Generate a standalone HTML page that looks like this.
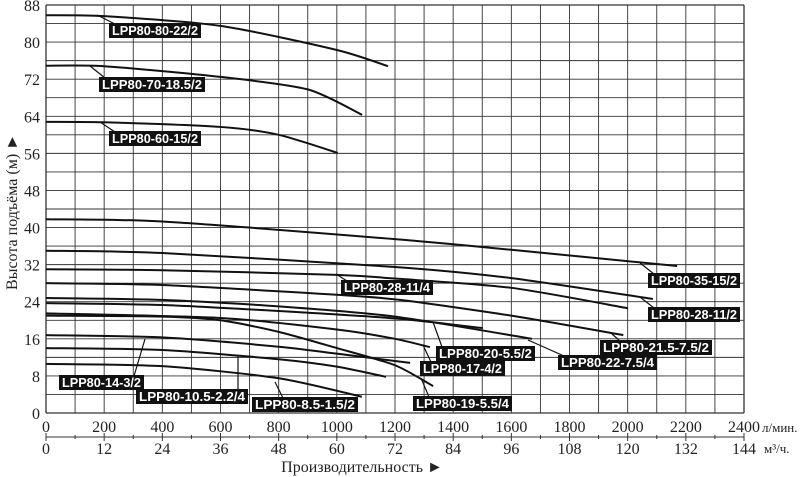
<!DOCTYPE html>
<html><head><meta charset="utf-8"><style>
html,body{margin:0;padding:0;background:#fff;}
svg{display:block;}
.tk{font-family:"Liberation Serif",serif;font-size:16px;fill:#222;}
.lb{font-family:"Liberation Sans",sans-serif;font-size:12.5px;font-weight:bold;fill:#fff;}
</style></head><body>
<svg id="chart" width="800" height="477" viewBox="0 0 800 477" xmlns="http://www.w3.org/2000/svg">
<g id="grid"></g>
<g id="curves"></g>
<g id="labels"></g>
<g id="axes"></g>
<text class="tk" transform="translate(17,212) rotate(-90)" text-anchor="middle">Высота подъёма (м) ►</text>
<text class="tk" x="362" y="472" text-anchor="middle">Производительность ►</text>
<text class="tk" x="762" y="432" style="font-size:13px">л/мин.</text>
<text class="tk" x="764" y="453" style="font-size:13px">м³/ч.</text>
</svg>
<script>
const xTicksL = [0,200,400,600,800,1000,1200,1400,1600,1800,2000,2200,2400];
const xTicksM = [0,12,24,36,48,60,72,84,96,108,120,132,144];
const yTicks = [0,8,16,24,32,40,48,56,64,72,80,88];
const names = ["LPP80-80-22/2","LPP80-70-18.5/2","LPP80-60-15/2","LPP80-35-15/2","LPP80-28-11/2","LPP80-28-11/4","LPP80-21.5-7.5/2","LPP80-22-7.5/4","LPP80-20-5.5/2","LPP80-17-4/2","LPP80-19-5.5/4","LPP80-14-3/2","LPP80-10.5-2.2/4","LPP80-8.5-1.5/2"];
const flowQ = [
 [0,200,600,1000,1176],
 [0,200,600,900,1087],
 [0,200,600,800,1003],
 [0,400,1200,1600,2170],
 [0,400,1200,1600,2087],
 [0,400,1000,1200,1600,2001],
 [0,400,1000,1217,1600,1985],
 [0,400,800,1200,1671],
 [0,400,800,1200,1502],
 [0,600,1000,1200,1320],
 [0,400,600,800,1000,1200,1331],
 [0,400,800,1000,1252],
 [0,400,800,1000,1169],
 [0,400,800,1086]
];
const headH = [
 [85.8,85.6,83.5,78.3,74.8],
 [74.9,74.8,72.5,69.8,64.3],
 [62.8,62.7,61.7,60,56.1],
 [41.8,41.3,37.5,35.2,31.7],
 [35,34.5,31.5,29.1,24.6],
 [31,30.8,29.8,29,27,22.6],
 [28,27.6,25.5,24.4,21,16.8],
 [24.8,24.4,23,20.8,16],
 [23.7,23.3,22,20.4,18.3],
 [21.5,20.5,18,16,14.2],
 [21,20.8,20,17.5,14,10.3,5.8],
 [16.8,16.3,14.3,12.8,10.8],
 [14,13.6,11.6,10,7.8],
 [10.6,10.1,7.5,3.5]
];
// label box positions & leader anchors (layout, not data)
const labelPos = [[109,23,97,15],[99,77,90,66],[109,131,100,122],[648,273,640,263],[648,307,640,297],[341,280,336,274],[600,340,612,334],[558,355,528,340],[436,346,433,322],[420,361,423,345],[413,396,421,378],[59,375,145,339],[136,389,238,355],[252,397,275,382]];
const X0=46,X1=744,Y0=413,Y1=5;
const xs=q=>X0+(X1-X0)*q/2400;
const ys=h=>Y0-(Y0-Y1)*h/88;
const NS="http://www.w3.org/2000/svg";
function mk(tag,attrs,parent){const e=document.createElementNS(NS,tag);for(const k in attrs)e.setAttribute(k,attrs[k]);parent.appendChild(e);return e;}
const grid=document.getElementById('grid');
for(let q=0;q<=2400;q+=100){const l=mk('line',{x1:xs(q),x2:xs(q),y1:Y1,y2:Y0,stroke:'#333','stroke-width':q==0||q==2400?1.3:0.9},grid);

}
for(let h=0;h<=88;h+=4){const l=mk('line',{x1:X0,x2:X1,y1:ys(h),y2:ys(h),stroke:'#333','stroke-width':h==0||h==88?1.3:0.9},grid);

}
const axes=document.getElementById('axes');
mk('line',{x1:X0,x2:X1,y1:437,y2:437,stroke:'#333','stroke-width':1},axes);
xTicksL.forEach((v,i)=>{const t=mk('text',{x:xs(v),y:432,'text-anchor':'middle','class':'tk'},axes);t.textContent=v;


const m=mk('text',{x:xs(v),y:454,'text-anchor':'middle','class':'tk'},axes);m.textContent=xTicksM[i];


mk('line',{x1:xs(v),x2:xs(v),y1:433,y2:441,stroke:'#333'},axes);});
for(let q=100;q<2400;q+=200)mk('line',{x1:xs(q),x2:xs(q),y1:435,y2:439,stroke:'#333'},axes);
yTicks.forEach(v=>{const t=mk('text',{x:40,y:ys(v)+6,'text-anchor':'end','class':'tk'},axes);t.textContent=v;

});
const cg=document.getElementById('curves');
function smooth(pts){let d=`M${pts[0][0]},${pts[0][1]}`;const k=8;for(let i=0;i<pts.length-1;i++){const p0=pts[i-1]||pts[i],p1=pts[i],p2=pts[i+1],p3=pts[i+2]||p2;
d+=` C${p1[0]+(p2[0]-p0[0])/k},${p1[1]+(p2[1]-p0[1])/k} ${p2[0]-(p3[0]-p1[0])/k},${p2[1]-(p3[1]-p1[1])/k} ${p2[0]},${p2[1]}`;}return d;}
const lg=document.getElementById('labels');
names.forEach((n,i)=>{const pts=flowQ[i].map((q,j)=>[xs(q),ys(headH[i][j])]);
const p=mk('path',{d:smooth(pts),fill:'none',stroke:'#111','stroke-width':2},cg);


const [bx,by,ax,ay]=labelPos[i];const w=Math.round(n.length*6.9+2);
const lx=Math.min(Math.max(ax+8,bx+6),bx+w-10);
mk('line',{x1:ax,y1:ay,x2:lx,y2:by+1,stroke:'#111','stroke-width':1.2},lg);
const r=mk('rect',{x:bx,y:by,width:w,height:15,fill:'#111'},lg);


const t=mk('text',{x:bx+3,y:by+12,'class':'lb',textLength:w-6,lengthAdjust:'spacingAndGlyphs'},lg);t.textContent=n;

});
</script>
</body></html>
